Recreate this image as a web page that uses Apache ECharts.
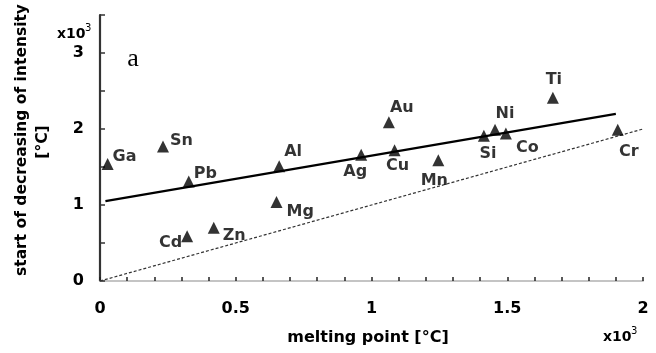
<!DOCTYPE html>
<html>
<head>
<meta charset="utf-8">
<script src="https://cdn.jsdelivr.net/npm/echarts@6/dist/echarts.min.js"></script>
<style>
html,body{margin:0;padding:0;background:#fff;}
#chart{width:656px;height:353px;}
</style>
</head>
<body>
<div id="chart"></div>
<script>
// ---- data ----
var elements = ['Ga','Sn','Pb','Cd','Zn','Mg','Al','Ag','Au','Cu','Mn','Si','Ni','Co','Ti','Cr'];
var meltingPoint = [0.028,0.232,0.327,0.321,0.419,0.650,0.660,0.962,1.064,1.085,1.246,1.414,1.455,1.495,1.668,1.907]; // x10^3 °C
var startDecrease = [1.54,1.77,1.31,0.59,0.70,1.04,1.51,1.66,2.09,1.72,1.59,1.91,1.99,1.94,2.41,1.99]; // x10^3 °C
var fitX = [0.02, 1.9];
var fitY = [1.05, 2.2];
var refX = [0, 2];
var refY = [0, 2];
var xTickLabels = ['0','0.5','1','1.5','2'];
var yTickLabels = ['0','1','2','3'];

// ---- label placement (style only) ----
var labelPlace = {
  Ga:['left',[5,-7]], Sn:['left',[7,-6]], Pb:['left',[5,-8]], Cd:['right',[-5,7]],
  Zn:['left',[9,8]], Mg:['left',[10,10]], Al:['left',[5,-14]], Ag:['center',[-6,17]],
  Au:['center',[13,-14]], Cu:['center',[3,16]], Mn:['center',[-4,21]], Si:['center',[4,18]],
  Ni:['center',[10,-16]], Co:['left',[10,14]], Ti:['center',[1,-18]], Cr:['center',[11,22]]
};

var FONT = 'DejaVu Sans';
var scatterData = elements.map(function(name, i){
  var p = labelPlace[name];
  return {
    name: name,
    value: [meltingPoint[i], startDecrease[i]],
    label: {show:true, formatter:name, position:'inside', align:p[0], verticalAlign:'middle', offset:p[1]}
  };
});

var chart = echarts.init(document.getElementById('chart'), null, {renderer:'canvas'});
chart.setOption({
  animation:false,
  backgroundColor:'#fff',
  grid:{left:100, right:13, top:15, bottom:72},
  xAxis:{
    type:'value', min:0, max:2, interval:0.1,
    axisLine:{lineStyle:{color:'#c4c4c4', width:2}},
    axisTick:{inside:true, length:4, lineStyle:{color:'#222', width:1.5}},
    splitLine:{show:false},
    axisLabel:{
      margin:20, color:'#000', fontFamily:FONT, fontWeight:'bold', fontSize:16,
      formatter:function(v){
        var k = Math.round(v*10);
        if (k % 5 !== 0) return '';
        return xTickLabels[k/5];
      }
    }
  },
  yAxis:{
    type:'value', min:0, max:3.5, interval:0.5,
    axisLine:{show:true, lineStyle:{color:'#333', width:2.2}},
    axisTick:{show:true, inside:true, length:5, lineStyle:{color:'#333', width:1.5}},
    splitLine:{show:false},
    axisLabel:{
      margin:16, color:'#000', fontFamily:FONT, fontWeight:'bold', fontSize:16,
      formatter:function(v){
        var k = Math.round(v*2);
        if (k % 2 !== 0) return '';
        return yTickLabels[k/2] || '';
      }
    }
  },
  series:[
    {
      type:'line', data:refX.map(function(x,i){return [x, refY[i]];}),
      symbol:'none', lineStyle:{color:'#333', width:1.2, type:[3,2]}, z:1, silent:true
    },
    {
      type:'line', data:fitX.map(function(x,i){return [x, fitY[i]];}),
      symbol:'none', lineStyle:{color:'#000', width:2.2}, z:2, silent:true
    },
    {
      type:'scatter', data:scatterData, symbol:'triangle', symbolSize:[12,12],
      itemStyle:{color:'#000'}, z:3, silent:true,
      label:{color:'#000', fontFamily:FONT, fontWeight:'bold', fontSize:16}
    }
  ],
  graphic:[
    {type:'text', x:22, y:140, rotation:Math.PI/2, style:{text:'start of decreasing of intensity', font:'bold 15.5px "DejaVu Sans"', fill:'#000', textAlign:'center', textVerticalAlign:'middle'}},
    {type:'text', x:43, y:142, rotation:Math.PI/2, style:{text:'[°C]', font:'bold 15.5px "DejaVu Sans"', fill:'#000', textAlign:'center', textVerticalAlign:'middle'}},
    {type:'text', x:368, y:338, style:{text:'melting point [°C]', font:'bold 16px "DejaVu Sans"', fill:'#000', textAlign:'center', textVerticalAlign:'middle'}},
    {type:'text', x:57, y:34, style:{text:'x10', font:'bold 14px "DejaVu Sans"', fill:'#000', textAlign:'left', textVerticalAlign:'middle'}},
    {type:'text', x:85, y:28, style:{text:'3', font:'10px "DejaVu Sans"', fill:'#000', textAlign:'left', textVerticalAlign:'middle'}},
    {type:'text', x:603, y:337, style:{text:'x10', font:'bold 14px "DejaVu Sans"', fill:'#000', textAlign:'left', textVerticalAlign:'middle'}},
    {type:'text', x:631, y:331, style:{text:'3', font:'10px "DejaVu Sans"', fill:'#000', textAlign:'left', textVerticalAlign:'middle'}},
    {type:'text', x:133, y:59, style:{text:'a', font:'26px "Liberation Serif"', fill:'#000', textAlign:'center', textVerticalAlign:'middle'}}
  ]
});
</script>
</body>
</html>
